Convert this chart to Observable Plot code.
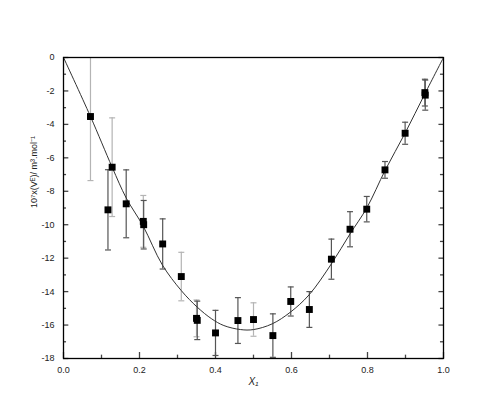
<!DOCTYPE html>
<html>
<head>
<meta charset="utf-8">
<script src="https://cdn.jsdelivr.net/npm/d3@7"></script>
<script src="https://cdn.jsdelivr.net/npm/@observablehq/plot@0.6"></script>
<style>
  html, body { margin: 0; padding: 0; background: #fff; }
  #chart svg, #chart svg text { font-family: "Liberation Sans", Arial, sans-serif; }
</style>
</head>
<body>
<div id="chart"></div>
<script>
// Measured points, series A (light grey error bars)
const aX   = [0.071, 0.128, 0.210, 0.310, 0.350, 0.500];
const aY   = [-3.53, -6.56, -9.80, -13.10, -15.60, -15.67];
const aErr = [3.83, 2.95, 1.55, 1.45, 1.10, 1.00];

// Measured points, series B (dark grey error bars)
const bX   = [0.117, 0.165, 0.211, 0.261, 0.352, 0.400, 0.459, 0.551, 0.598, 0.647, 0.705, 0.754, 0.798, 0.846, 0.899, 0.951, 0.952];
const bY   = [-9.11, -8.75, -10.00, -11.15, -15.72, -16.47, -15.73, -16.63, -14.59, -15.07, -12.06, -10.27, -9.07, -6.72, -4.53, -2.10, -2.25];
const bErr = [2.40, 2.03, 1.45, 1.50, 1.15, 1.35, 1.37, 1.30, 0.87, 1.07, 1.20, 1.05, 0.76, 0.50, 0.66, 0.80, 0.90];

// Fitted curve
const curveX = [0, 0.071, 0.128, 0.165, 0.210, 0.260, 0.310, 0.352, 0.390, 0.422, 0.466, 0.500, 0.549, 0.597, 0.646, 0.705, 0.754, 0.798, 0.847, 0.899, 0.951, 1.0];
const curveY = [0, -3.53, -6.56, -8.40, -10.10, -12.40, -13.94, -14.93, -15.63, -16.03, -16.27, -16.27, -15.93, -15.23, -14.20, -12.34, -10.55, -9.00, -6.72, -4.52, -2.17, 0];

// Ticks
const xMajor = [0, 0.2, 0.4, 0.6, 0.8, 1.0];
const xMinor = [0.1, 0.3, 0.5, 0.7, 0.9];
const yMajor = [0, -2, -4, -6, -8, -10, -12, -14, -16, -18];
const yMinor = [-1, -3, -5, -7, -9, -11, -13, -15, -17];

const yLabel = "10\u2077x(V\u1D31)/ m\u00B3.mol\u207B\u00B9";
const xLabel = "X\u2081";

const A = aX.map((x, i) => ({x, y: aY[i], lo: aY[i] - aErr[i], hi: aY[i] + aErr[i]}));
const B = bX.map((x, i) => ({x, y: bY[i], lo: bY[i] - bErr[i], hi: bY[i] + bErr[i]}));
const curve = curveX.map((x, i) => ({x, y: curveY[i]}));

const capSymbol = {
  draw(context, size) {
    const w = 3;
    context.moveTo(-w, 0);
    context.lineTo(w, 0);
  }
};

const lightGrey = "#b4b4b4";
const darkGrey = "#555555";
const tickColor = "#444";
const font = "'Liberation Sans', Arial, sans-serif";

function errMarks(data, color) {
  return [
    Plot.ruleX(data, {x: "x", y1: "lo", y2: "hi", stroke: color, strokeWidth: 1.2, clip: true}),
    Plot.dot(data.filter(d => d.hi <= 0), {x: "x", y: "hi", symbol: capSymbol, stroke: color, fill: "none", r: 3, strokeWidth: 1.2}),
    Plot.dot(data, {x: "x", y: "lo", symbol: capSymbol, stroke: color, fill: "none", r: 3, strokeWidth: 1.2})
  ];
}

const chart = Plot.plot({
  width: 500,
  height: 420,
  marginTop: 57,
  marginRight: 57,
  marginBottom: 62,
  marginLeft: 63,
  style: {fontFamily: font, fontSize: "9px", color: "#222", background: "#fff"},
  x: {domain: [0, 1]},
  y: {domain: [-18, 0]},
  marks: [
    Plot.axisX(xMajor, {tickSize: 0, tickPadding: 8, tickFormat: d3.format(".1f"), label: null, fontSize: 9, fontFamily: font, fill: "#222"}),
    Plot.axisY(yMajor, {tickSize: 0, tickPadding: 9, tickFormat: d => String(d), label: null, fontSize: 9, fontFamily: font, fill: "#222"}),
    // inward ticks: bottom
    Plot.ruleX(xMajor, {x: d => d, y1: -18, y2: -17.64, stroke: tickColor, strokeWidth: 1.3}),
    Plot.ruleX(xMinor, {x: d => d, y1: -18, y2: -17.8, stroke: tickColor, strokeWidth: 1.3}),
    // inward ticks: left
    Plot.ruleY(yMajor, {y: d => d, x1: 0, x2: 0.014, stroke: tickColor, strokeWidth: 1.3}),
    Plot.ruleY(yMinor, {y: d => d, x1: 0, x2: 0.008, stroke: tickColor, strokeWidth: 1.3}),
    // inward ticks: right
    Plot.ruleY(yMajor, {y: d => d, x1: 1, x2: 0.988, stroke: tickColor, strokeWidth: 1.3}),
    Plot.ruleY(yMinor, {y: d => d, x1: 1, x2: 0.992, stroke: tickColor, strokeWidth: 1.3}),
    ...errMarks(A, lightGrey),
    ...errMarks(B, darkGrey),
    Plot.line(curve, {x: "x", y: "y", curve: "catmull-rom", stroke: "#333", strokeWidth: 1}),
    Plot.dot(A, {x: "x", y: "y", symbol: "square", r: 3.9, fill: "#000"}),
    Plot.dot(B, {x: "x", y: "y", symbol: "square", r: 3.9, fill: "#000"}),
    Plot.frame({stroke: "#000", strokeWidth: 1.3}),
    Plot.text([yLabel], {frameAnchor: "left", rotate: -90, dx: -29, fontSize: 9, fontFamily: font, fill: "#222"}),
    Plot.text([xLabel], {frameAnchor: "bottom", dy: 26, fontSize: 10, fontFamily: font, fontStyle: "italic", fill: "#222"})
  ]
});

document.getElementById("chart").appendChild(chart);
</script>
</body>
</html>
